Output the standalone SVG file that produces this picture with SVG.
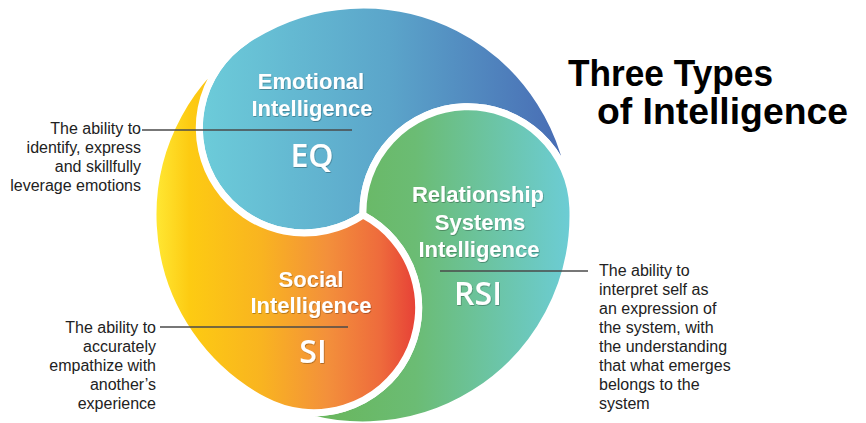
<svg xmlns="http://www.w3.org/2000/svg" width="866" height="423" viewBox="0 0 866 423">
<defs>
<linearGradient id="gBlue" gradientUnits="userSpaceOnUse" x1="205" y1="0" x2="572" y2="0">
<stop offset="0" stop-color="#6ccbd9"/>
<stop offset="0.5" stop-color="#5ba5ca"/>
<stop offset="1" stop-color="#4769b3"/>
</linearGradient>
<linearGradient id="gGreen" gradientUnits="userSpaceOnUse" x1="330" y1="0" x2="575" y2="0">
<stop offset="0" stop-color="#69b75f"/>
<stop offset="0.35" stop-color="#6bbc74"/>
<stop offset="1" stop-color="#6ccdd8"/>
</linearGradient>
<linearGradient id="gYellow" gradientUnits="userSpaceOnUse" x1="155" y1="0" x2="420" y2="0">
<stop offset="0" stop-color="#ffe834"/>
<stop offset="0.13" stop-color="#fdcb12"/>
<stop offset="0.4" stop-color="#f9b420"/>
<stop offset="0.65" stop-color="#f3903b"/>
<stop offset="0.85" stop-color="#ee6b3c"/>
<stop offset="1" stop-color="#e63c36"/>
</linearGradient>
<filter id="sh" x="-10%" y="-10%" width="120%" height="130%">
<feDropShadow dx="0.6" dy="0.8" stdDeviation="0.7" flood-color="#000" flood-opacity="0.35"/>
</filter>
</defs>
<style>
.gap{fill:none;stroke:#fff;stroke-width:7;stroke-linejoin:round}
.lbl{font-family:"Liberation Sans",Arial,sans-serif;font-weight:bold;font-size:22px;fill:#fff;text-anchor:middle;filter:url(#sh)}
.abbr{font-family:"Open Sans","Liberation Sans",sans-serif;font-weight:600;font-size:32px;fill:#fff;text-anchor:middle;filter:url(#sh)}
.desc{font-family:"Liberation Sans",Arial,sans-serif;font-size:16px;fill:#222}
.lead{stroke:#4a4a4a;stroke-width:1.4;fill:none}
.title{font-family:"Liberation Sans",Arial,sans-serif;font-weight:bold;font-size:37px;fill:#000}
</style>
<rect width="866" height="423" fill="#fff"/>

<g id="eq">
<path id="pEQ" d="M245.57 40.9 A210 210 0 0 1 572.87 207.67 A105 105 0 0 0 363 215 A105 105 0 0 1 245.57 40.9 Z" fill="url(#gBlue)"/>
</g>
<g id="rsi">
<path id="pRSI" d="M572.87 207.67 A210 210 0 0 1 264.41 400.42 A105 105 0 0 0 363 215 A105 105 0 0 1 572.87 207.67 Z" fill="url(#gGreen)"/>
</g>
<g id="si">
<path id="pSI" d="M264.41 400.42 A210 210 0 0 1 245.57 40.9 A105 105 0 0 0 363 215 A105 105 0 0 1 264.41 400.42 Z" fill="url(#gYellow)"/>
</g>
<g id="gaps">
<use href="#pEQ" class="gap"/>
<use href="#pRSI" class="gap"/>
<use href="#pSI" class="gap"/>
</g>

<g id="connectors">
<line class="lead" x1="142" y1="130" x2="352" y2="130"/>
<line class="lead" x1="160" y1="327" x2="348" y2="327"/>
<line class="lead" x1="440" y1="271" x2="588" y2="271"/>
</g>

<g id="eq-labels">
<text class="lbl" x="311" y="89">Emotional</text>
<text class="lbl" x="312" y="116">Intelligence</text>
<text class="abbr" x="312" y="167">EQ</text>
<text class="desc" text-anchor="end"><tspan x="141" y="134">The ability to</tspan><tspan x="141" y="153">identify, express</tspan><tspan x="141" y="172">and skillfully</tspan><tspan x="141" y="191">leverage emotions</tspan></text>
</g>
<g id="rsi-labels">
<text class="lbl" x="478" y="202">Relationship</text>
<text class="lbl" x="480" y="230">Systems</text>
<text class="lbl" x="479" y="257">Intelligence</text>
<text class="abbr" x="478" y="305">RSI</text>
<text class="desc"><tspan x="599" y="276">The ability to</tspan><tspan x="599" y="295">interpret self as</tspan><tspan x="599" y="314">an expression of</tspan><tspan x="599" y="333">the system, with</tspan><tspan x="599" y="352">the understanding</tspan><tspan x="599" y="371">that what emerges</tspan><tspan x="599" y="390">belongs to the</tspan><tspan x="599" y="409">system</tspan></text>
</g>
<g id="si-labels">
<text class="lbl" x="311" y="287">Social</text>
<text class="lbl" x="311" y="313">Intelligence</text>
<text class="abbr" x="313" y="363">SI</text>
<text class="desc" text-anchor="end"><tspan x="156" y="333">The ability to</tspan><tspan x="156" y="352">accurately</tspan><tspan x="156" y="371">empathize with</tspan><tspan x="156" y="390">another’s</tspan><tspan x="156" y="409">experience</tspan></text>
</g>

<g id="title">
<text class="title" x="568" y="86" textLength="205" lengthAdjust="spacingAndGlyphs">Three Types</text>
<text class="title" x="597" y="124" textLength="251" lengthAdjust="spacingAndGlyphs">of Intelligence</text>
</g>
</svg>
